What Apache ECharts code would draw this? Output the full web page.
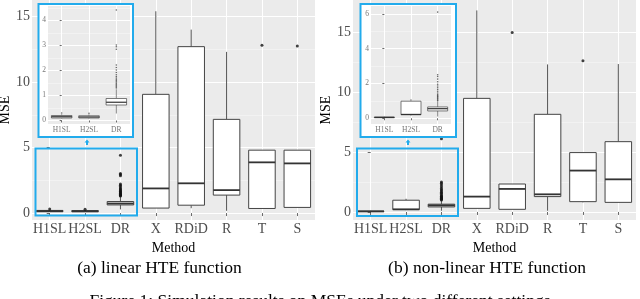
<!DOCTYPE html>
<html><head><meta charset="utf-8">
<script src="https://cdn.jsdelivr.net/npm/echarts@6/dist/echarts.min.js"></script>
<style>html,body{margin:0;padding:0;background:#fff}#c{width:640px;height:299px}</style>
</head><body><div id="c"></div>
<script>
// ---------- data ----------
const methods = ['H1SL', 'H2SL', 'DR', 'X', 'RDiD', 'R', 'T', 'S'];
const insetMethods = ['H1SL', 'H2SL', 'DR'];
// [lower whisker, Q1, median, Q3, upper whisker]
const linearBoxes = [
  [0.08, 0.10, 0.15, 0.20, 0.25],
  [0.08, 0.10, 0.14, 0.19, 0.25],
  [0.28, 0.62, 0.73, 0.88, 1.25],
  [0.38, 0.38, 1.88, 9.06, 15.4],
  [0.37, 0.60, 2.27, 12.7, 14.0],
  [0.17, 1.37, 1.75, 7.15, 12.3],
  [0.35, 0.35, 3.87, 4.80, 4.80],
  [0.43, 0.43, 3.79, 4.80, 4.80]
];
// [method index, value]
const linearOutliers = [
  [0, 0.30], [1, 0.29],
  [2, 1.30], [2, 1.34], [2, 1.38], [2, 1.42], [2, 1.46], [2, 1.50], [2, 1.55], [2, 1.60],
  [2, 1.65], [2, 1.70], [2, 1.76], [2, 1.83], [2, 1.92], [2, 2.02], [2, 2.12], [2, 2.22],
  [2, 2.85], [2, 2.95], [2, 3.02], [2, 4.42],
  [6, 12.8], [7, 12.75]
];
const nonlinearBoxes = [
  [0.02, 0.03, 0.05, 0.07, 0.09],
  [0.15, 0.20, 0.22, 0.98, 1.10],
  [0.10, 0.42, 0.55, 0.65, 0.95],
  [0.30, 0.30, 1.28, 9.47, 16.8],
  [0.22, 0.22, 1.92, 2.33, 2.33],
  [0.10, 1.28, 1.47, 8.14, 12.3],
  [0.80, 0.86, 3.45, 4.95, 4.95],
  [0.80, 0.80, 2.72, 5.86, 12.33]
];
const nonlinearOutliers = [
  [2, 1.00], [2, 1.05], [2, 1.10], [2, 1.15], [2, 1.20], [2, 1.25], [2, 1.30], [2, 1.36],
  [2, 1.45], [2, 1.55], [2, 1.65], [2, 1.75], [2, 1.85], [2, 1.95], [2, 2.10], [2, 2.25],
  [2, 2.40], [2, 2.50], [2, 6.10],
  [4, 14.97], [6, 12.6]
];
const mainTicks = [0, 5, 10, 15];
const mainMinor = [2.5, 7.5, 12.5];
const linearInsetTicks = [0, 1, 2, 3, 4];
const linearInsetMinor = [0.5, 1.5, 2.5, 3.5, 4.5];
const nonlinearInsetTicks = [0, 2, 4, 6];
const nonlinearInsetMinor = [1, 3, 5];
const captionA = '(a) linear HTE function';
const captionB = '(b) non-linear HTE function';
const figureCaption = 'Figure 1: Simulation results on MSEs under two different settings';

// ---------- helpers ----------
const SERIF = '"Liberation Serif", "DejaVu Serif", serif';
function rows(boxes) { return boxes.map((b, i) => [i].concat(b)); }
function boxRenderer(lw, mlw) {
  return function (params, api) {
    const i = api.value(0);
    const lo = api.coord([i, api.value(1)]);
    const q1 = api.coord([i, api.value(2)]);
    const md = api.coord([i, api.value(3)]);
    const q3 = api.coord([i, api.value(4)]);
    const hi = api.coord([i, api.value(5)]);
    const w = api.size([1, 0])[0] * 0.75;
    const x = lo[0];
    return {
      type: 'group', children: [
        { type: 'line', shape: { x1: x, y1: lo[1], x2: x, y2: q1[1] }, style: { stroke: '#555', lineWidth: lw } },
        { type: 'line', shape: { x1: x, y1: q3[1], x2: x, y2: hi[1] }, style: { stroke: '#555', lineWidth: lw } },
        { type: 'rect', shape: { x: x - w / 2, y: q3[1], width: w, height: q1[1] - q3[1] }, style: { fill: '#fff', stroke: '#444', lineWidth: lw } },
        { type: 'line', shape: { x1: x - w / 2, y1: md[1], x2: x + w / 2, y2: md[1] }, style: { stroke: '#333', lineWidth: mlw } }
      ]
    };
  };
}
function xAxisDef(gi, names, fs, tickLen, z, nameText, nameGap, labelColor) {
  const idx = names.map((_, i) => i);
  return {
    type: 'value', gridIndex: gi, min: -0.5, max: names.length - 0.5, z: z,
    axisLine: { show: false },
    axisTick: { show: true, length: tickLen, customValues: idx, lineStyle: { color: '#444', width: 0.8 } },
    axisLabel: { customValues: idx, formatter: v => names[Math.round(v)], fontFamily: SERIF, fontSize: fs, color: labelColor, margin: 2 },
    splitLine: { show: true, lineStyle: { color: '#fff', width: 1 } },
    name: nameText, nameLocation: 'middle', nameGap: nameGap,
    nameTextStyle: { fontFamily: SERIF, fontSize: 14, color: '#000' }
  };
}
function yAxisDef(gi, min, max, ticks, fs, tickLen, z, nameText, nameGap, labelColor) {
  return {
    type: 'value', gridIndex: gi, min: min, max: max, z: z,
    axisLine: { show: false },
    axisTick: { show: true, length: tickLen, customValues: ticks, lineStyle: { color: '#444', width: 0.8 } },
    axisLabel: { customValues: ticks, fontFamily: SERIF, fontSize: fs, color: labelColor, margin: 2 },
    splitLine: { show: true, lineStyle: { color: '#fff', width: 1 } },
    name: nameText, nameLocation: 'middle', nameGap: nameGap, nameRotate: 90,
    nameTextStyle: { fontFamily: SERIF, fontSize: 14, color: '#000' }
  };
}
function yMinorDef(gi, min, max, ticks, z) {
  return {
    type: 'value', gridIndex: gi, min: min, max: max, z: z, position: 'left', offset: 0,
    axisLine: { show: false },
    axisTick: { show: false, customValues: ticks },
    axisLabel: { show: false, customValues: ticks },
    splitLine: { show: true, lineStyle: { color: '#f6f6f6', width: 0.6 } }
  };
}
const gridBase = { show: true, backgroundColor: '#ebebeb', borderWidth: 0, containLabel: false, outerBoundsMode: 'none' };

const BLUE = '#22abec';
const option = {
  animation: false,
  grid: [
    Object.assign({ left: 32, top: 0, width: 283, height: 220, z: 0 }, gridBase),
    Object.assign({ left: 353, top: 0, width: 283, height: 220, z: 0 }, gridBase),
    Object.assign({ left: 48, top: 6, width: 82, height: 118, z: 21 }, gridBase),
    Object.assign({ left: 371, top: 6, width: 80, height: 118, z: 21 }, gridBase)
  ],
  xAxis: [
    xAxisDef(0, methods, 14, 3, 0, 'Method', 11, '#4d4d4d'),
    xAxisDef(1, methods, 14, 3, 0, 'Method', 11, '#4d4d4d'),
    xAxisDef(2, insetMethods, 7.5, 2, 22, '', 0, '#777'),
    xAxisDef(3, insetMethods, 7.5, 2, 22, '', 0, '#777')
  ],
  yAxis: [
    yAxisDef(0, -0.53, 16.26, mainTicks, 14, 3, 0, 'MSE', 17, '#4d4d4d'),
    yAxisDef(1, -0.67, 17.67, mainTicks, 14, 3, 0, 'MSE', 18, '#4d4d4d'),
    yAxisDef(2, -0.14, 4.58, linearInsetTicks, 7.5, 2, 22, '', 0, '#777'),
    yAxisDef(3, -0.33, 6.45, nonlinearInsetTicks, 7.5, 2, 22, '', 0, '#777'),
    yMinorDef(0, -0.53, 16.26, mainMinor, 0),
    yMinorDef(1, -0.67, 17.67, mainMinor, 0),
    yMinorDef(2, -0.14, 4.58, linearInsetMinor, 22),
    yMinorDef(3, -0.33, 6.45, nonlinearInsetMinor, 22)
  ],
  series: [
    { type: 'custom', xAxisIndex: 0, yAxisIndex: 0, z: 2, renderItem: boxRenderer(1, 1.8), data: rows(linearBoxes), encode: { x: 0, y: [1, 2, 3, 4, 5] } },
    { type: 'scatter', xAxisIndex: 0, yAxisIndex: 0, z: 3, symbolSize: 3, itemStyle: { color: '#111' }, data: linearOutliers },
    { type: 'custom', xAxisIndex: 1, yAxisIndex: 1, z: 2, renderItem: boxRenderer(1, 1.8), data: rows(nonlinearBoxes), encode: { x: 0, y: [1, 2, 3, 4, 5] } },
    { type: 'scatter', xAxisIndex: 1, yAxisIndex: 1, z: 3, symbolSize: 3, itemStyle: { color: '#111' }, data: nonlinearOutliers },
    { type: 'custom', xAxisIndex: 2, yAxisIndex: 2, z: 23, renderItem: boxRenderer(0.7, 1.2), data: rows(linearBoxes.slice(0, 3)), encode: { x: 0, y: [1, 2, 3, 4, 5] } },
    { type: 'scatter', xAxisIndex: 2, yAxisIndex: 2, z: 24, symbolSize: 1.6, itemStyle: { color: '#444' }, data: linearOutliers.filter(p => p[0] < 3) },
    { type: 'custom', xAxisIndex: 3, yAxisIndex: 3, z: 23, renderItem: boxRenderer(0.7, 1.2), data: rows(nonlinearBoxes.slice(0, 3)), encode: { x: 0, y: [1, 2, 3, 4, 5] } },
    { type: 'scatter', xAxisIndex: 3, yAxisIndex: 3, z: 24, symbolSize: 1.6, itemStyle: { color: '#444' }, data: nonlinearOutliers.filter(p => p[0] < 3) }
  ],
  graphic: [
    { type: 'rect', z: 20, shape: { x: 38.5, y: 4, width: 94.5, height: 133 }, style: { fill: '#fff', stroke: BLUE, lineWidth: 2 } },
    { type: 'rect', z: 20, shape: { x: 360.5, y: 4, width: 95.5, height: 133 }, style: { fill: '#fff', stroke: BLUE, lineWidth: 2 } },
    { type: 'rect', z: 20, shape: { x: 35.5, y: 148.5, width: 101.5, height: 67 }, style: { fill: null, stroke: BLUE, lineWidth: 2 } },
    { type: 'rect', z: 20, shape: { x: 357, y: 148.5, width: 101, height: 67.5 }, style: { fill: null, stroke: BLUE, lineWidth: 2 } },
    { type: 'polygon', z: 20, shape: { points: [[87, 139.5], [84.5, 142.5], [86, 142.5], [86, 145], [88, 145], [88, 142.5], [89.5, 142.5]] }, style: { fill: BLUE } },
    { type: 'polygon', z: 20, shape: { points: [[408, 139.5], [405.5, 142.5], [407, 142.5], [407, 145], [409, 145], [409, 142.5], [410.5, 142.5]] }, style: { fill: BLUE } },
    { type: 'text', z: 20, x: 159.5, y: 268, style: { text: captionA, font: '17.5px ' + SERIF, fill: '#000', textAlign: 'center', textVerticalAlign: 'middle' } },
    { type: 'text', z: 20, x: 487, y: 268, style: { text: captionB, font: '17.5px ' + SERIF, fill: '#000', textAlign: 'center', textVerticalAlign: 'middle' } },
    { type: 'text', z: 20, x: 320, y: 301.5, style: { text: figureCaption, font: '17.5px ' + SERIF, fill: '#000', textAlign: 'center', textVerticalAlign: 'middle' } }
  ]
};
const chart = echarts.init(document.getElementById('c'), null, { renderer: 'canvas' });
chart.setOption(option);
</script>
</body></html>
